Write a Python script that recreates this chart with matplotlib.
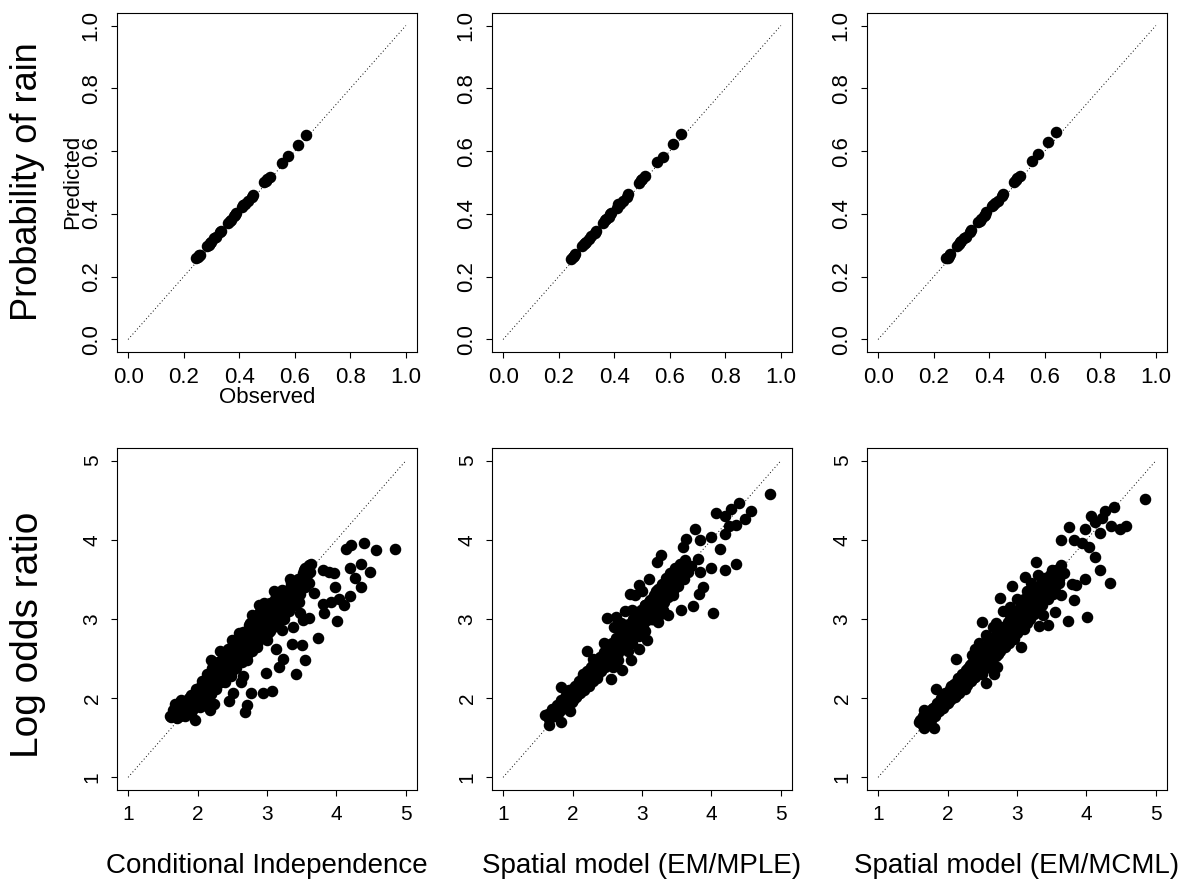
import matplotlib
matplotlib.use("Agg")
import matplotlib.pyplot as plt

plt.rcParams['font.family'] = ['Liberation Sans', 'DejaVu Sans']

# ---- top row: probability of rain (observed vs predicted) ----
obs = [0.245, 0.25, 0.255, 0.26, 0.285, 0.29, 0.295, 0.30, 0.31, 0.315,
       0.33, 0.335, 0.36, 0.365, 0.37, 0.38, 0.385, 0.39, 0.41, 0.415,
       0.42, 0.43, 0.445, 0.45, 0.49, 0.495, 0.50, 0.51, 0.555, 0.575,
       0.61, 0.64]
pred_ci = [0.258, 0.262, 0.268, 0.270, 0.298, 0.302, 0.308, 0.310, 0.322, 0.327,
           0.342, 0.345, 0.372, 0.378, 0.382, 0.392, 0.397, 0.402, 0.422, 0.428,
           0.432, 0.440, 0.455, 0.460, 0.500, 0.505, 0.510, 0.518, 0.563, 0.585,
           0.620, 0.650]
pred_mple = [0.257, 0.263, 0.266, 0.271, 0.297, 0.304, 0.306, 0.312, 0.320, 0.329,
             0.340, 0.347, 0.370, 0.380, 0.383, 0.390, 0.399, 0.404, 0.420, 0.430,
             0.433, 0.442, 0.453, 0.462, 0.498, 0.507, 0.512, 0.520, 0.566, 0.582,
             0.623, 0.655]
pred_mcml = [0.259, 0.261, 0.267, 0.272, 0.299, 0.303, 0.309, 0.313, 0.323, 0.326,
             0.343, 0.348, 0.373, 0.377, 0.385, 0.393, 0.398, 0.405, 0.424, 0.427,
             0.434, 0.441, 0.456, 0.463, 0.503, 0.508, 0.514, 0.522, 0.568, 0.590,
             0.630, 0.660]

# ---- bottom row: log odds ratio (observed on x, fitted on y) ----
lor_ci_x = [1.62, 1.66, 1.70, 1.72, 1.75, 1.78, 1.80, 1.83, 1.85, 1.88, 1.90, 1.92,
            1.95, 1.97, 2.00, 2.02, 2.05, 2.07, 2.10, 2.12, 2.15, 2.17, 2.20, 2.22,
            2.25, 2.27, 2.30, 2.32, 2.35, 2.37, 2.40, 2.42, 2.45, 2.47, 2.50, 2.52,
            2.55, 2.57, 2.60, 2.62, 2.65, 2.67, 2.70, 2.72, 2.75, 2.77, 2.80, 2.82,
            2.85, 2.87, 2.90, 2.92, 2.95, 2.97, 3.00, 3.02, 3.05, 3.07, 3.10, 3.12,
            3.15, 3.17, 3.20, 3.22, 3.25, 3.27, 3.30, 3.32, 3.35, 3.37, 3.40, 3.42,
            3.45, 3.47, 3.50, 3.55, 3.58, 3.60, 3.62, 2.55, 2.65, 2.85, 3.05, 3.25,
            2.40, 2.20, 2.75, 2.95, 3.15, 3.35, 2.60, 2.33, 2.19, 2.50, 2.78, 2.95,
            3.22, 3.38, 3.53, 2.04, 2.38, 2.71, 3.00, 3.22, 3.48, 3.67, 1.74, 1.68,
            4.84, 4.57, 4.40, 4.21, 4.14, 4.49, 4.35, 4.20, 4.27, 4.35, 4.19, 4.11,
            4.04, 4.01, 3.98, 3.97, 3.92, 3.81, 3.89, 3.80, 3.82, 3.73, 3.63, 3.54,
            3.61, 3.52, 3.37, 3.36, 3.50, 3.54, 3.42, 3.23, 3.17, 3.13, 2.99, 3.07,
            2.94, 2.77, 2.71, 2.68, 2.51, 2.45, 2.62, 2.65, 2.48, 2.23, 2.18, 2.13,
            1.96, 1.60, 1.68, 1.76]
lor_ci_y = [1.76, 1.80, 1.75, 1.85, 1.78, 1.90, 1.82, 1.95, 1.88, 2.00, 1.80, 1.93,
            2.05, 1.97, 2.10, 1.98, 2.15, 2.05, 2.20, 2.08, 2.25, 2.12, 2.30, 2.18,
            2.35, 2.22, 2.40, 2.28, 2.45, 2.32, 2.50, 2.38, 2.55, 2.42, 2.60, 2.47,
            2.65, 2.52, 2.70, 2.55, 2.75, 2.60, 2.80, 2.63, 2.85, 2.70, 2.90, 2.75,
            2.95, 2.80, 3.00, 2.85, 3.05, 2.88, 3.10, 2.93, 3.15, 2.98, 3.18, 3.02,
            3.20, 3.08, 3.25, 3.12, 3.28, 3.15, 3.30, 3.20, 3.35, 3.25, 3.40, 3.28,
            3.45, 3.32, 3.50, 3.40, 3.55, 3.45, 3.60, 2.38, 2.50, 2.65, 2.85, 3.00,
            2.20, 2.05, 2.95, 3.15, 3.30, 3.45, 2.82, 2.59, 2.48, 2.74, 3.05, 3.20,
            3.37, 3.46, 3.62, 1.89, 2.23, 2.48, 2.74, 2.86, 3.07, 3.33, 1.95, 1.87,
            3.88, 3.87, 3.96, 3.93, 3.88, 3.59, 3.69, 3.65, 3.52, 3.41, 3.29, 3.18,
            3.25, 2.98, 3.41, 3.58, 3.22, 3.62, 3.60, 3.19, 3.07, 2.76, 3.70, 3.65,
            3.01, 2.99, 2.90, 2.69, 2.67, 2.48, 2.31, 2.50, 2.39, 2.62, 2.32, 2.09,
            2.06, 2.06, 1.92, 1.83, 2.06, 1.96, 2.20, 2.28, 2.28, 1.93, 1.85, 1.90,
            1.73, 1.77, 1.93, 1.98]
core_ci_x = [1.65, 1.70, 1.73, 1.76, 1.79, 1.82, 1.86, 1.89, 1.91, 1.94, 1.98, 2.01,
             2.03, 2.06, 2.09, 2.11, 2.14, 2.16, 2.19, 2.21, 2.24, 2.26, 2.29, 2.31,
             2.34, 2.36, 2.39, 2.41, 2.44, 2.46, 2.49, 2.51, 2.54, 2.56, 2.59, 2.61,
             2.64, 2.66, 2.69, 2.71, 2.74, 2.76, 2.79, 2.81, 2.84, 2.86, 2.89, 2.91,
             2.94, 2.96, 2.99, 3.01, 3.04, 3.06, 3.09, 3.11, 3.14, 3.16, 3.19, 3.21,
             3.24, 3.26, 3.29, 3.31, 3.34, 3.38, 3.41, 3.44, 3.48, 3.52, 3.56, 3.60,
             3.46, 3.33, 3.10, 2.88]
core_ci_y = [1.85, 1.92, 1.80, 1.95, 1.86, 1.78, 1.98, 1.90, 2.04, 1.86, 2.12, 2.02,
             1.92, 2.22, 2.12, 1.99, 2.30, 2.18, 2.06, 2.38, 2.26, 2.12, 2.46, 2.34,
             2.20, 2.54, 2.42, 2.28, 2.62, 2.48, 2.34, 2.68, 2.56, 2.42, 2.76, 2.62,
             2.46, 2.84, 2.70, 2.54, 2.92, 2.78, 2.60, 3.00, 2.86, 2.68, 3.08, 2.94,
             2.76, 3.14, 3.02, 2.82, 3.20, 3.06, 2.90, 3.25, 3.12, 2.96, 3.30, 3.18,
             3.04, 3.36, 3.24, 3.10, 3.42, 3.32, 3.18, 3.50, 3.38, 3.58, 3.48, 3.68,
             3.22, 3.50, 3.35, 3.18]

lor_mple_x = [1.64, 1.68, 1.72, 1.75, 1.78, 1.80, 1.84, 1.87, 1.90, 1.93, 1.96, 1.99,
              2.02, 2.05, 2.08, 2.11, 2.14, 2.17, 2.20, 2.23, 2.26, 2.29, 2.32, 2.35,
              2.38, 2.41, 2.44, 2.47, 2.50, 2.53, 2.56, 2.59, 2.62, 2.65, 2.68, 2.71,
              2.74, 2.77, 2.80, 2.83, 2.86, 2.89, 2.92, 2.95, 2.98, 3.01, 3.04, 3.07,
              3.10, 3.13, 3.16, 3.19, 3.22, 3.25, 3.28, 3.31, 3.34, 3.37, 3.40, 3.44,
              3.48, 3.52, 3.56, 3.60, 3.64, 2.00, 2.30, 2.60, 2.90, 3.20, 3.50, 2.15,
              2.45, 2.75, 3.05, 3.35, 2.85, 3.00, 3.15, 2.70, 2.55, 2.40, 2.25, 3.30,
              3.45, 3.10, 2.95, 2.65, 2.35, 1.85, 1.95,
              4.84, 4.57, 4.49, 4.39, 4.28, 4.19, 4.07, 4.25, 4.36, 4.20, 4.12, 4.00,
              4.36, 4.19, 3.99, 4.02, 3.88, 3.82, 3.74, 3.83, 3.81, 3.83, 3.76, 3.64,
              3.59, 3.71, 3.56, 3.38, 3.23, 3.27, 3.21, 2.95, 2.82, 2.49, 2.62, 2.95,
              2.84, 2.71, 2.56, 2.21, 1.83, 1.66, 1.61, 1.83, 1.97, 1.92, 3.07, 2.78]
lor_mple_y = [1.80, 1.76, 1.84, 1.79, 1.88, 1.83, 1.92, 1.87, 1.96, 1.90, 2.02, 1.95,
              2.08, 2.01, 2.12, 2.06, 2.18, 2.10, 2.24, 2.16, 2.30, 2.22, 2.36, 2.28,
              2.42, 2.34, 2.48, 2.40, 2.54, 2.45, 2.60, 2.52, 2.66, 2.57, 2.72, 2.63,
              2.78, 2.70, 2.84, 2.75, 2.90, 2.81, 2.96, 2.87, 3.02, 2.93, 3.08, 2.99,
              3.14, 3.05, 3.20, 3.10, 3.26, 3.16, 3.32, 3.22, 3.38, 3.28, 3.44, 3.36,
              3.50, 3.42, 3.56, 3.50, 3.62, 2.12, 2.42, 2.70, 3.05, 3.35, 3.60, 2.30,
              2.55, 2.92, 3.18, 3.48, 3.12, 2.90, 3.00, 2.80, 2.68, 2.50, 2.35, 3.12,
              3.30, 3.22, 2.78, 2.48, 2.26, 1.92, 2.10,
              4.58, 4.37, 4.26, 4.47, 4.39, 4.30, 4.34, 4.17, 4.19, 4.07, 3.89, 4.04,
              3.69, 3.62, 3.65, 3.07, 3.41, 3.31, 3.16, 3.59, 3.76, 4.00, 4.14, 4.01,
              3.91, 3.67, 3.12, 3.05, 2.96, 3.81, 3.72, 3.43, 3.31, 3.01, 3.03, 2.62,
              2.48, 2.35, 2.24, 2.60, 2.14, 1.66, 1.79, 1.70, 1.84, 2.05, 2.73, 2.90]
core_mple_x = [1.66, 1.70, 1.73, 1.77, 1.81, 1.84, 1.88, 1.91, 1.94, 1.97, 2.00, 2.03,
               2.06, 2.09, 2.12, 2.15, 2.18, 2.21, 2.24, 2.27, 2.30, 2.33, 2.36, 2.39,
               2.42, 2.45, 2.48, 2.51, 2.54, 2.57, 2.60, 2.63, 2.66, 2.69, 2.72, 2.75,
               2.78, 2.81, 2.84, 2.87, 2.90, 2.93, 2.96, 2.99, 3.02, 3.05, 3.08, 3.11,
               3.14, 3.17, 3.20, 3.23, 3.26, 3.29, 3.32, 3.35, 3.38, 3.41, 3.44, 3.47,
               3.50, 3.54, 3.58, 3.62, 3.66, 2.58, 2.80, 3.05, 3.25, 2.30, 2.70,
               2.60, 2.75, 2.90, 3.00, 3.10, 2.55, 2.85, 3.15, 3.30, 2.45]
core_mple_y = [1.74, 1.86, 1.78, 1.92, 1.84, 1.98, 1.88, 2.04, 1.94, 2.10, 1.98, 2.16,
               2.04, 2.22, 2.12, 2.28, 2.16, 2.34, 2.22, 2.40, 2.28, 2.46, 2.34, 2.52,
               2.40, 2.58, 2.46, 2.64, 2.50, 2.70, 2.56, 2.76, 2.62, 2.82, 2.68, 2.88,
               2.74, 2.94, 2.80, 3.00, 2.86, 3.06, 2.92, 3.12, 2.98, 3.18, 3.04, 3.24,
               3.08, 3.30, 3.14, 3.38, 3.20, 3.44, 3.28, 3.52, 3.34, 3.58, 3.40, 3.64,
               3.46, 3.70, 3.55, 3.75, 3.60, 2.40, 2.60, 2.85, 3.05, 2.50, 2.95,
               2.90, 3.10, 3.30, 3.35, 3.50, 2.45, 2.70, 3.00, 3.20, 2.70]

lor_mcml_x = [1.60, 1.64, 1.68, 1.71, 1.74, 1.77, 1.80, 1.83, 1.86, 1.89, 1.92, 1.95,
              1.98, 2.01, 2.04, 2.07, 2.10, 2.13, 2.16, 2.19, 2.22, 2.25, 2.28, 2.31,
              2.34, 2.37, 2.40, 2.43, 2.46, 2.49, 2.52, 2.55, 2.58, 2.61, 2.64, 2.67,
              2.70, 2.73, 2.76, 2.79, 2.82, 2.85, 2.88, 2.91, 2.94, 2.97, 3.00, 3.03,
              3.06, 3.09, 3.12, 3.15, 3.18, 3.21, 3.24, 3.27, 3.30, 3.33, 3.36, 3.40,
              3.44, 3.48, 3.52, 3.56, 3.60, 2.05, 2.35, 2.65, 2.95, 3.25, 3.55, 2.20,
              2.50, 2.80, 3.10, 3.40, 2.90, 3.05, 3.20, 2.75, 2.60, 2.45, 2.30, 3.35,
              3.50, 3.15, 2.98, 2.70, 2.40, 1.90, 2.15,
              4.84, 4.57, 4.49, 4.35, 4.39, 4.27, 4.23, 4.13, 4.20, 4.07, 3.98, 3.75,
              3.63, 3.82, 3.93, 4.03, 4.12, 4.19, 4.34, 3.98, 3.85, 3.79, 3.82, 4.01,
              3.74, 3.63, 3.55, 3.45, 3.32, 3.37, 3.27, 3.12, 2.93, 2.75, 2.49, 3.06,
              2.73, 2.67, 2.55, 2.71, 2.12, 1.83, 1.59, 1.66, 1.81, 1.66]
lor_mcml_y = [1.72, 1.78, 1.70, 1.80, 1.76, 1.86, 1.80, 1.90, 1.84, 1.95, 1.88, 2.00,
              1.93, 2.05, 1.98, 2.10, 2.02, 2.14, 2.07, 2.20, 2.12, 2.25, 2.17, 2.30,
              2.22, 2.35, 2.27, 2.40, 2.32, 2.46, 2.37, 2.52, 2.42, 2.58, 2.48, 2.64,
              2.53, 2.70, 2.60, 2.76, 2.65, 2.82, 2.70, 2.88, 2.76, 2.94, 2.82, 3.00,
              2.88, 3.06, 2.94, 3.12, 3.00, 3.18, 3.06, 3.24, 3.12, 3.30, 3.18, 3.36,
              3.25, 3.42, 3.32, 3.50, 3.45, 2.15, 2.45, 2.55, 3.02, 3.30, 3.40, 2.20,
              2.62, 2.90, 3.25, 3.52, 3.05, 2.95, 3.22, 2.85, 2.72, 2.52, 2.38, 3.40,
              3.62, 3.35, 2.86, 2.75, 2.45, 1.98, 2.25,
              4.52, 4.17, 4.14, 4.17, 4.42, 4.36, 4.27, 4.22, 4.09, 4.30, 4.14, 4.16,
              4.00, 4.00, 3.96, 3.91, 3.78, 3.62, 3.46, 3.51, 3.43, 3.44, 3.24, 3.02,
              2.98, 3.30, 3.09, 2.92, 2.91, 3.05, 3.72, 3.53, 3.42, 3.26, 2.96, 2.65,
              2.56, 2.31, 2.19, 2.39, 2.50, 2.12, 1.70, 1.62, 1.62, 1.85]
core_mcml_x = [1.63, 1.67, 1.70, 1.73, 1.76, 1.79, 1.82, 1.85, 1.88, 1.91, 1.94, 1.97,
               2.00, 2.03, 2.06, 2.09, 2.12, 2.15, 2.18, 2.21, 2.24, 2.27, 2.30, 2.33,
               2.36, 2.39, 2.42, 2.45, 2.48, 2.51, 2.54, 2.57, 2.60, 2.63, 2.66, 2.69,
               2.72, 2.75, 2.78, 2.81, 2.84, 2.87, 2.90, 2.93, 2.96, 2.99, 3.02, 3.05,
               3.08, 3.11, 3.14, 3.17, 3.20, 3.23, 3.26, 3.29, 3.32, 3.35, 3.38, 3.41,
               3.44, 3.48, 3.52, 3.56, 3.60, 3.64, 3.68, 2.40, 2.62, 2.85, 3.10,
               2.45, 2.55, 2.35, 2.65, 2.80, 2.70, 3.00, 3.20, 3.30, 2.25, 2.50,
               2.95, 3.15, 2.90, 2.58]
core_mcml_y = [1.68, 1.76, 1.66, 1.82, 1.72, 1.88, 1.78, 1.94, 1.84, 2.00, 1.88, 2.06,
               1.94, 2.12, 2.00, 2.18, 2.04, 2.24, 2.10, 2.30, 2.16, 2.36, 2.20, 2.42,
               2.26, 2.48, 2.32, 2.54, 2.38, 2.60, 2.44, 2.66, 2.50, 2.72, 2.56, 2.78,
               2.62, 2.84, 2.68, 2.90, 2.74, 2.96, 2.80, 3.02, 2.86, 3.08, 2.92, 3.14,
               2.98, 3.20, 3.04, 3.26, 3.10, 3.32, 3.16, 3.38, 3.22, 3.44, 3.28, 3.50,
               3.34, 3.56, 3.40, 3.62, 3.50, 3.68, 3.58, 2.62, 2.40, 3.10, 2.88,
               2.70, 2.80, 2.55, 2.90, 3.10, 2.95, 3.25, 3.45, 3.55, 2.12, 2.30,
               2.75, 2.95, 3.15, 2.62]

prob_preds = [pred_ci, pred_mple, pred_mcml]
lor_xs = [lor_ci_x + core_ci_x, lor_mple_x + core_mple_x, lor_mcml_x + core_mcml_x]
lor_ys = [lor_ci_y + core_ci_y, lor_mple_y + core_mple_y, lor_mcml_y + core_mcml_y]
model_names = ["Conditional Independence", "Spatial model (EM/MPLE)",
               "Spatial model (EM/MCML)"]
prob_ticks = [0.0, 0.2, 0.4, 0.6, 0.8, 1.0]
prob_ticklabels = ["0.0", "0.2", "0.4", "0.6", "0.8", "1.0"]
lor_ticks = [1, 2, 3, 4, 5]

W, H = 1187, 884


def px(x, y):
    return x / W, 1 - y / H


def style_axes(ax, size):
    for s in ax.spines.values():
        s.set_linewidth(0.8)
    ax.tick_params(direction='out', length=4, width=0.8, labelsize=size, pad=7)
    for lab in ax.get_yticklabels():
        lab.set_rotation(90)
        lab.set_va('center')


def main():
    fig = plt.figure(figsize=(W / 100, H / 100), dpi=100)
    lefts = [117, 492, 867]

    for i in range(3):
        # top panel
        l, b = px(lefts[i], 352)
        ax = fig.add_axes([l, b, 300 / W, 339 / H])
        ax.plot([0, 1], [0, 1], color='black', lw=0.7, ls=(0, (1, 2.5)))
        ax.plot(obs, prob_preds[i], 'o', color='black', ms=7.3)
        ax.set_xlim(-0.04, 1.04)
        ax.set_ylim(-0.04, 1.04)
        ax.set_xticks(prob_ticks)
        ax.set_yticks(prob_ticks)
        ax.set_xticklabels(prob_ticklabels)
        ax.set_yticklabels(prob_ticklabels)
        style_axes(ax, 16)

        # bottom panel
        l, b = px(lefts[i], 790)
        ax = fig.add_axes([l, b, 300 / W, 342 / H])
        ax.plot([1, 5], [1, 5], color='black', lw=0.7, ls=(0, (1, 2.5)))
        ax.plot(lor_xs[i], lor_ys[i], 'o', color='black', ms=7.3)
        ax.set_xlim(0.84, 5.16)
        ax.set_ylim(0.84, 5.16)
        ax.set_xticks(lor_ticks)
        ax.set_yticks(lor_ticks)
        style_axes(ax, 15)

        fig.text(*px(lefts[i] + 150, 866), model_names[i], fontsize=20,
                 ha='center', va='center')

    fig.text(*px(28, 182), "Probability of rain", fontsize=26, rotation=90,
             ha='center', va='center')
    fig.text(*px(28, 635), "Log odds ratio", fontsize=28, rotation=90,
             ha='center', va='center')
    fig.text(*px(73, 182), "Predicted", fontsize=16, rotation=90,
             ha='center', va='center')
    fig.text(*px(267, 398), "Observed", fontsize=16, ha='center', va='center')

    fig.savefig("out.png", dpi=100)


if __name__ == '__main__':
    main()
